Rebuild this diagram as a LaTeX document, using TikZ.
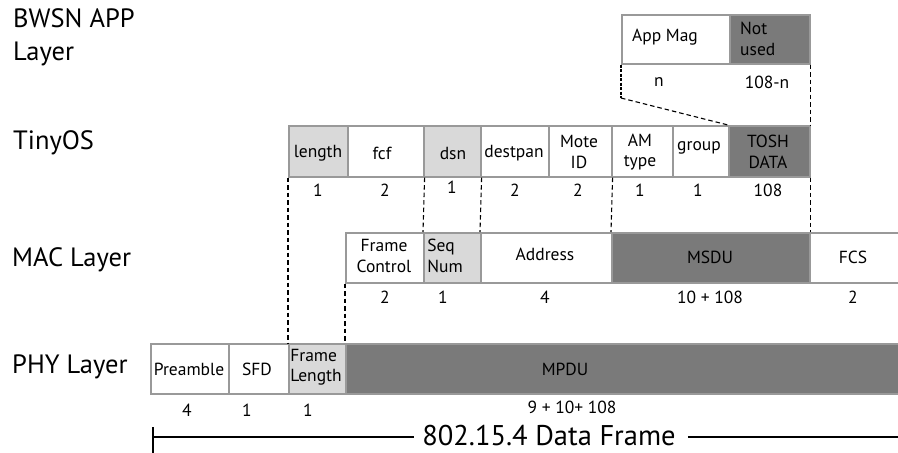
\documentclass[tikz,border=0pt]{standalone}
\usepackage{fontspec}
\setmainfont{PT Sans}
\newcommand\mkfield[6]{\node[#6, anchor=north west, minimum width={(#3-#2)*1pt}, minimum height={(#5-#4)*1pt}] (#1) at (#2,#4) {};}
\tikzset{
  fld/.style={draw=gray!80, line width=1.6pt, fill=white, inner sep=0pt},
  lt/.style={fld, fill=black!15},
  dk/.style={fld, fill=black!52},
  lbl/.style={inner sep=0pt, align=center, font=\fontsize{17.5}{20.5}\selectfont},
  num/.style={inner sep=0pt, font=\fontsize{17.5}{18}\selectfont},
  lay/.style={inner sep=0pt, anchor=west, align=left, font=\fontsize{26.5}{33}\selectfont},
  dsh/.style={line width=1.1pt, dash pattern=on 4.5pt off 3pt},
}
\begin{document}
\begin{tikzpicture}[x=1pt,y=-1pt]
\useasboundingbox (0,0) rectangle (898,453);
\begin{scope}
\clip (0,0) rectangle (898,453);
% layer labels
\node[lay] (lapp) at (13,37) {BWSN APP\\Layer};
\node[lay] (ltos) at (13,143) {TinyOS};
\node[lay] (lmac) at (12,260) {MAC Layer};
\node[lay] (lphy) at (12,367) {PHY Layer};
% app row
\mkfield{appmag}{621}{729}{14}{63}{fld}
\mkfield{notused}{729}{809}{14}{63}{dk}
\node[lbl] (tappmag) at (665,37) {App Mag};
\node[lbl, anchor=west, align=left] (tnotused) at (740,39) {Not\\used};
\node[num] (nn) at (659,82) {n};
\node[num] (n108n) at (767,82) {108-n};
% tinyos row
\mkfield{len}{288}{347}{125}{176}{lt}
\mkfield{fcf}{347}{423}{125}{176}{fld}
\mkfield{dsn}{423}{480}{125}{176}{lt}
\mkfield{dpan}{480}{548}{125}{176}{fld}
\mkfield{mote}{548}{611}{125}{176}{fld}
\mkfield{amt}{611}{672}{125}{176}{fld}
\mkfield{grp}{672}{728}{125}{176}{fld}
\mkfield{tosh}{728}{809}{125}{176}{dk}
\node[lbl] (tlen) at (318,153) {length};
\node[lbl] (tfcf) at (382,153) {fcf};
\node[lbl] (tdsn) at (453,153) {dsn};
\node[lbl] (tdpan) at (514,153) {destpan};
\node[lbl] (tmote) at (579,152) {Mote\\ID};
\node[lbl] (tamt) at (640,152) {AM\\type};
\node[lbl] (tgrp) at (699,148) {group};
\node[lbl] (ttosh) at (768,152) {TOSH\\DATA};
\node[num] (n1) at (318,190) {1};
\node[num] (n2) at (385,190) {2};
\node[num] (n3) at (452,187) {1};
\node[num] (n4) at (515,190) {2};
\node[num] (n5) at (578,190) {2};
\node[num] (n6) at (640,190) {1};
\node[num] (n7) at (698,190) {1};
\node[num] (n8) at (768,190) {108};
% mac row
\mkfield{fctl}{345}{423}{232}{282}{fld}
\mkfield{seq}{423}{480}{232}{282}{lt}
\mkfield{addr}{480}{611}{232}{282}{fld}
\mkfield{msdu}{611}{809}{232}{282}{dk}
\mkfield{fcs}{809}{905}{232}{282}{fld}
\node[lbl] (tfctl) at (384,256) {Frame\\Control};
\node[lbl, align=left] (tseq) at (445,256) {Seq\\Num};
\node[lbl] (taddr) at (545,254) {Address};
\node[lbl] (tmsdu) at (710,257) {MSDU};
\node[lbl] (tfcs) at (853,257) {FCS};
\node[num] (m1) at (385,297) {2};
\node[num] (m2) at (443,297) {1};
\node[num] (m3) at (545,297) {4};
\node[num] (m4) at (710,297) {10 + 108};
\node[num] (m5) at (853,297) {2};
% phy row
\mkfield{pre}{150}{228}{343}{393}{fld}
\mkfield{sfd}{228}{288}{343}{393}{fld}
\mkfield{flen}{288}{345}{343}{393}{lt}
\mkfield{mpdu}{345}{905}{343}{393}{dk}
\node[lbl] (tpre) at (189,369) {Preamble};
\node[lbl] (tsfd) at (257,369) {SFD};
\node[lbl, align=left] (tflen) at (316,367) {Frame\\Length};
\node[lbl] (tmpdu) at (565,369) {MPDU};
\node[num] (p1) at (187,410) {4};
\node[num] (p2) at (247,410) {1};
\node[num] (p3) at (308,410) {1};
\node[num] (p4) at (572,407) {9 + 10+ 108};
% data frame span
\node[inner sep=0pt, font=\fontsize{28.5}{30}\selectfont] (dframe) at (549,436) {802.15.4 Data Frame};
\coordinate (dfl) at (153,437);
\coordinate (dftop) at (153,427);
\coordinate (dfbot) at (153,455);
\coordinate (dfr) at (900,437);
\draw[line width=1.2pt] (dftop) -- (dfbot);
\draw[line width=1.2pt] (dfl) -- ([xshift=-8pt]dframe.west |- dfl);
\draw[line width=1.2pt] ([xshift=12pt]dframe.east |- dfl) -- (dfr);
% dashed connectors
\coordinate (bend) at (621,98);
\draw[line width=2.4pt, dash pattern=on 3pt off 1.5pt] (appmag.south west) -- (bend);
\draw[dsh] (bend) -- (tosh.north west);
\draw[dsh] (notused.south east) -- (tosh.north east);
\draw[dsh] (len.south west) -- (flen.north west);
\draw[dsh] (fcf.south east) -- (seq.north west);
\draw[dsh] (dsn.south east) -- (addr.north west);
\draw[dsh] (mote.south east) -- (msdu.north west);
\draw[dsh] (tosh.south east) -- (msdu.north east);
\draw[dsh] (fctl.south west) -- (mpdu.north west);
\end{scope}
\end{tikzpicture}
\end{document}
